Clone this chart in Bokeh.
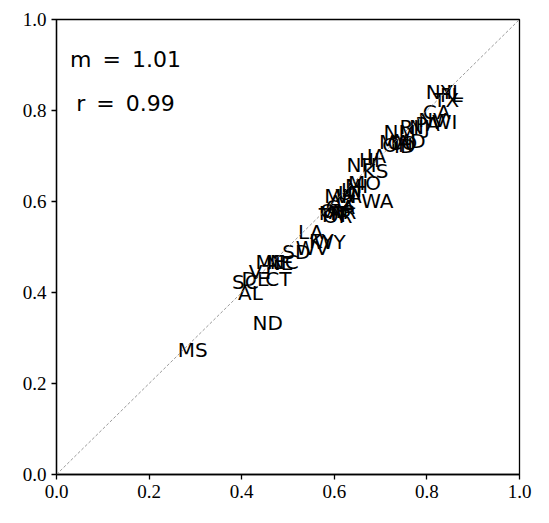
from bokeh.plotting import figure
from bokeh.models import Range1d, FixedTicker, PrintfTickFormatter, Slope, ColumnDataSource, Label
from bokeh.embed import file_html
from bokeh.resources import INLINE

# state labels and values (x: predicted share, y: observed share)
states = ["MS", "ND", "AL", "SC", "DE", "CT", "VT", "ME", "NE", "NC",
          "SD", "WV", "LA", "KY", "WY", "MT", "TN", "OK", "OR", "AR",
          "GA", "AZ", "MN", "VA", "UT", "WA", "MO", "IN", "MI", "KS",
          "NH", "HI", "IA", "MA", "OH", "CO", "MD", "ID", "NM", "RI",
          "NJ", "PA", "NV", "WI", "CA", "IL", "NY", "FL", "TX"]
x_vals = [0.294, 0.456, 0.419, 0.408, 0.430, 0.479, 0.443, 0.462, 0.482, 0.492,
          0.518, 0.553, 0.549, 0.572, 0.590, 0.598, 0.596, 0.600, 0.607, 0.618,
          0.613, 0.617, 0.613, 0.631, 0.637, 0.693, 0.665, 0.637, 0.648, 0.689,
          0.659, 0.676, 0.691, 0.730, 0.737, 0.747, 0.762, 0.752, 0.741, 0.762,
          0.784, 0.801, 0.812, 0.838, 0.821, 0.860, 0.827, 0.853, 0.842]
y_vals = [0.273, 0.334, 0.400, 0.422, 0.429, 0.429, 0.446, 0.466, 0.464, 0.466,
          0.490, 0.497, 0.532, 0.514, 0.510, 0.574, 0.571, 0.580, 0.569, 0.576,
          0.587, 0.598, 0.613, 0.611, 0.618, 0.602, 0.640, 0.626, 0.635, 0.668,
          0.681, 0.692, 0.699, 0.730, 0.725, 0.729, 0.732, 0.721, 0.752, 0.763,
          0.763, 0.771, 0.780, 0.774, 0.796, 0.840, 0.840, 0.835, 0.822]

slope_m = "1.01"
corr_r = "0.99"
ticks = [0.0, 0.2, 0.4, 0.6, 0.8, 1.0]

p = figure(width=540, height=514, output_backend="svg", toolbar_location=None,
           x_range=Range1d(0, 1), y_range=Range1d(0, 1),
           min_border_left=56, min_border_right=21, min_border_top=19, min_border_bottom=40)
p.grid.visible = False
p.background_fill_color = "white"
p.border_fill_color = "white"
p.outline_line_color = "black"
p.outline_line_width = 1.3

for ax in (p.xaxis, p.yaxis):
    ax.ticker = FixedTicker(ticks=ticks)
    ax.formatter = PrintfTickFormatter(format="%.1f")
    ax.axis_line_color = "black"
    ax.axis_line_width = 1.3
    ax.major_tick_line_width = 1.3
    ax.major_tick_out = 5
    ax.major_tick_in = 0
    ax.minor_tick_line_color = None
    ax.major_label_text_font = "Liberation Serif"
    ax.major_label_text_font_size = "19px"
    ax.major_label_text_color = "black"
p.xaxis.major_label_standoff = 5
p.yaxis.major_label_standoff = 5

p.add_layout(Slope(gradient=1, y_intercept=0, line_color="gray",
                   line_dash="3 2", line_width=0.8))

src = ColumnDataSource(dict(x=x_vals, y=y_vals, t=states))
p.text(x="x", y="y", text="t", source=src, text_align="center",
       text_baseline="middle", text_font_size="20px",
       text_font={"value": "DejaVu Sans"}, text_color="black")

p.add_layout(Label(x=0.149, y=0.912, text="m\u2002=\u2002" + slope_m,
                   text_align="center", text_baseline="middle",
                   text_font="DejaVu Sans", text_font_size="22px", text_color="black"))
p.add_layout(Label(x=0.149, y=0.815, text="r\u2002=\u2002" + corr_r,
                   text_align="center", text_baseline="middle",
                   text_font="DejaVu Sans", text_font_size="22px", text_color="black"))

open("out.html", "w").write(file_html(p, INLINE))
